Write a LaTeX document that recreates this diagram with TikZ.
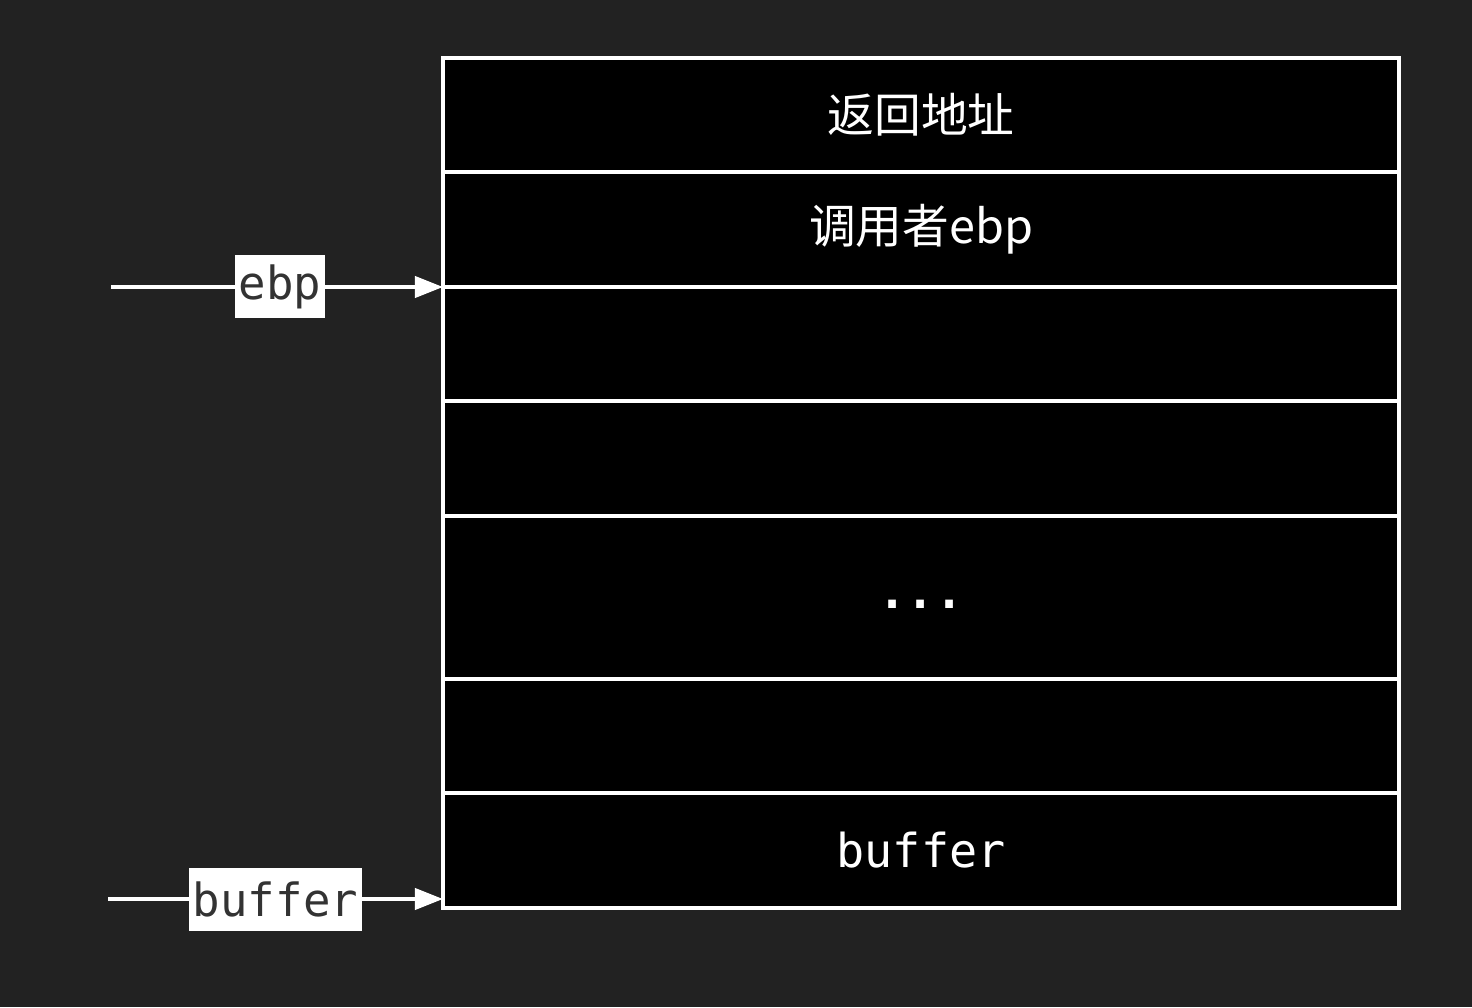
\documentclass[tikz,border=0pt]{standalone}
\usepackage{fontspec}
\setmonofont{DejaVu Sans Mono}
\newfontfamily\cjk{Noto Sans CJK SC}
\usetikzlibrary{arrows.meta}
\definecolor{bgdark}{HTML}{222222}
\definecolor{tagtext}{HTML}{333333}

\begin{document}
\begin{tikzpicture}[ >={Triangle[length=8pt,width=6pt]},
    cell/.style={ draw=white, fill=black, line width=1.1pt,
    minimum width=9.56cm, inner sep=0pt, outer sep=0pt, text=white,
    font=\cjk\fontsize{13.3pt}{16pt}\selectfont },
    pointer/.style={ ->, draw=white, line width=1.1pt },
    tag/.style={ fill=white, text=tagtext, inner xsep=0.04cm,
    inner ysep=0pt, minimum height=0.63cm,
    font=\ttfamily\fontsize{13pt}{16pt}\selectfont } ]
  \fill[bgdark] (0,0) rectangle (14.72,10.07);
  \useasboundingbox (0,0) rectangle (14.72,10.07);
  % stack rows, top to bottom
  \foreach \n/\y/\h/\l in {r1/8.92/1.14/返回地址,r2/7.775/1.15/调用者ebp,
    r3/6.63/1.14/,r4/5.485/1.15/,
    r5/4.095/1.63/{\ttfamily\bfseries\smash{\raisebox{-0.11cm}{...}}},
    r6/2.71/1.14/,r7/1.565/1.15/{\ttfamily buffer}}
  \node[cell,minimum height=\h cm] (\n) at (9.21,\y) {\l};
  \coordinate (ebpfrom) at (1.11,7.20);
  \coordinate (buffrom) at (1.08,1.08);
  \coordinate (bufto) at (4.43,1.08);
  \draw[pointer] (ebpfrom) -- node[tag,xshift=0.03cm] {ebp} (r3.north west);
  \draw[pointer] (buffrom) -- node[tag] {buffer} (bufto);

\end{tikzpicture}
\end{document}
